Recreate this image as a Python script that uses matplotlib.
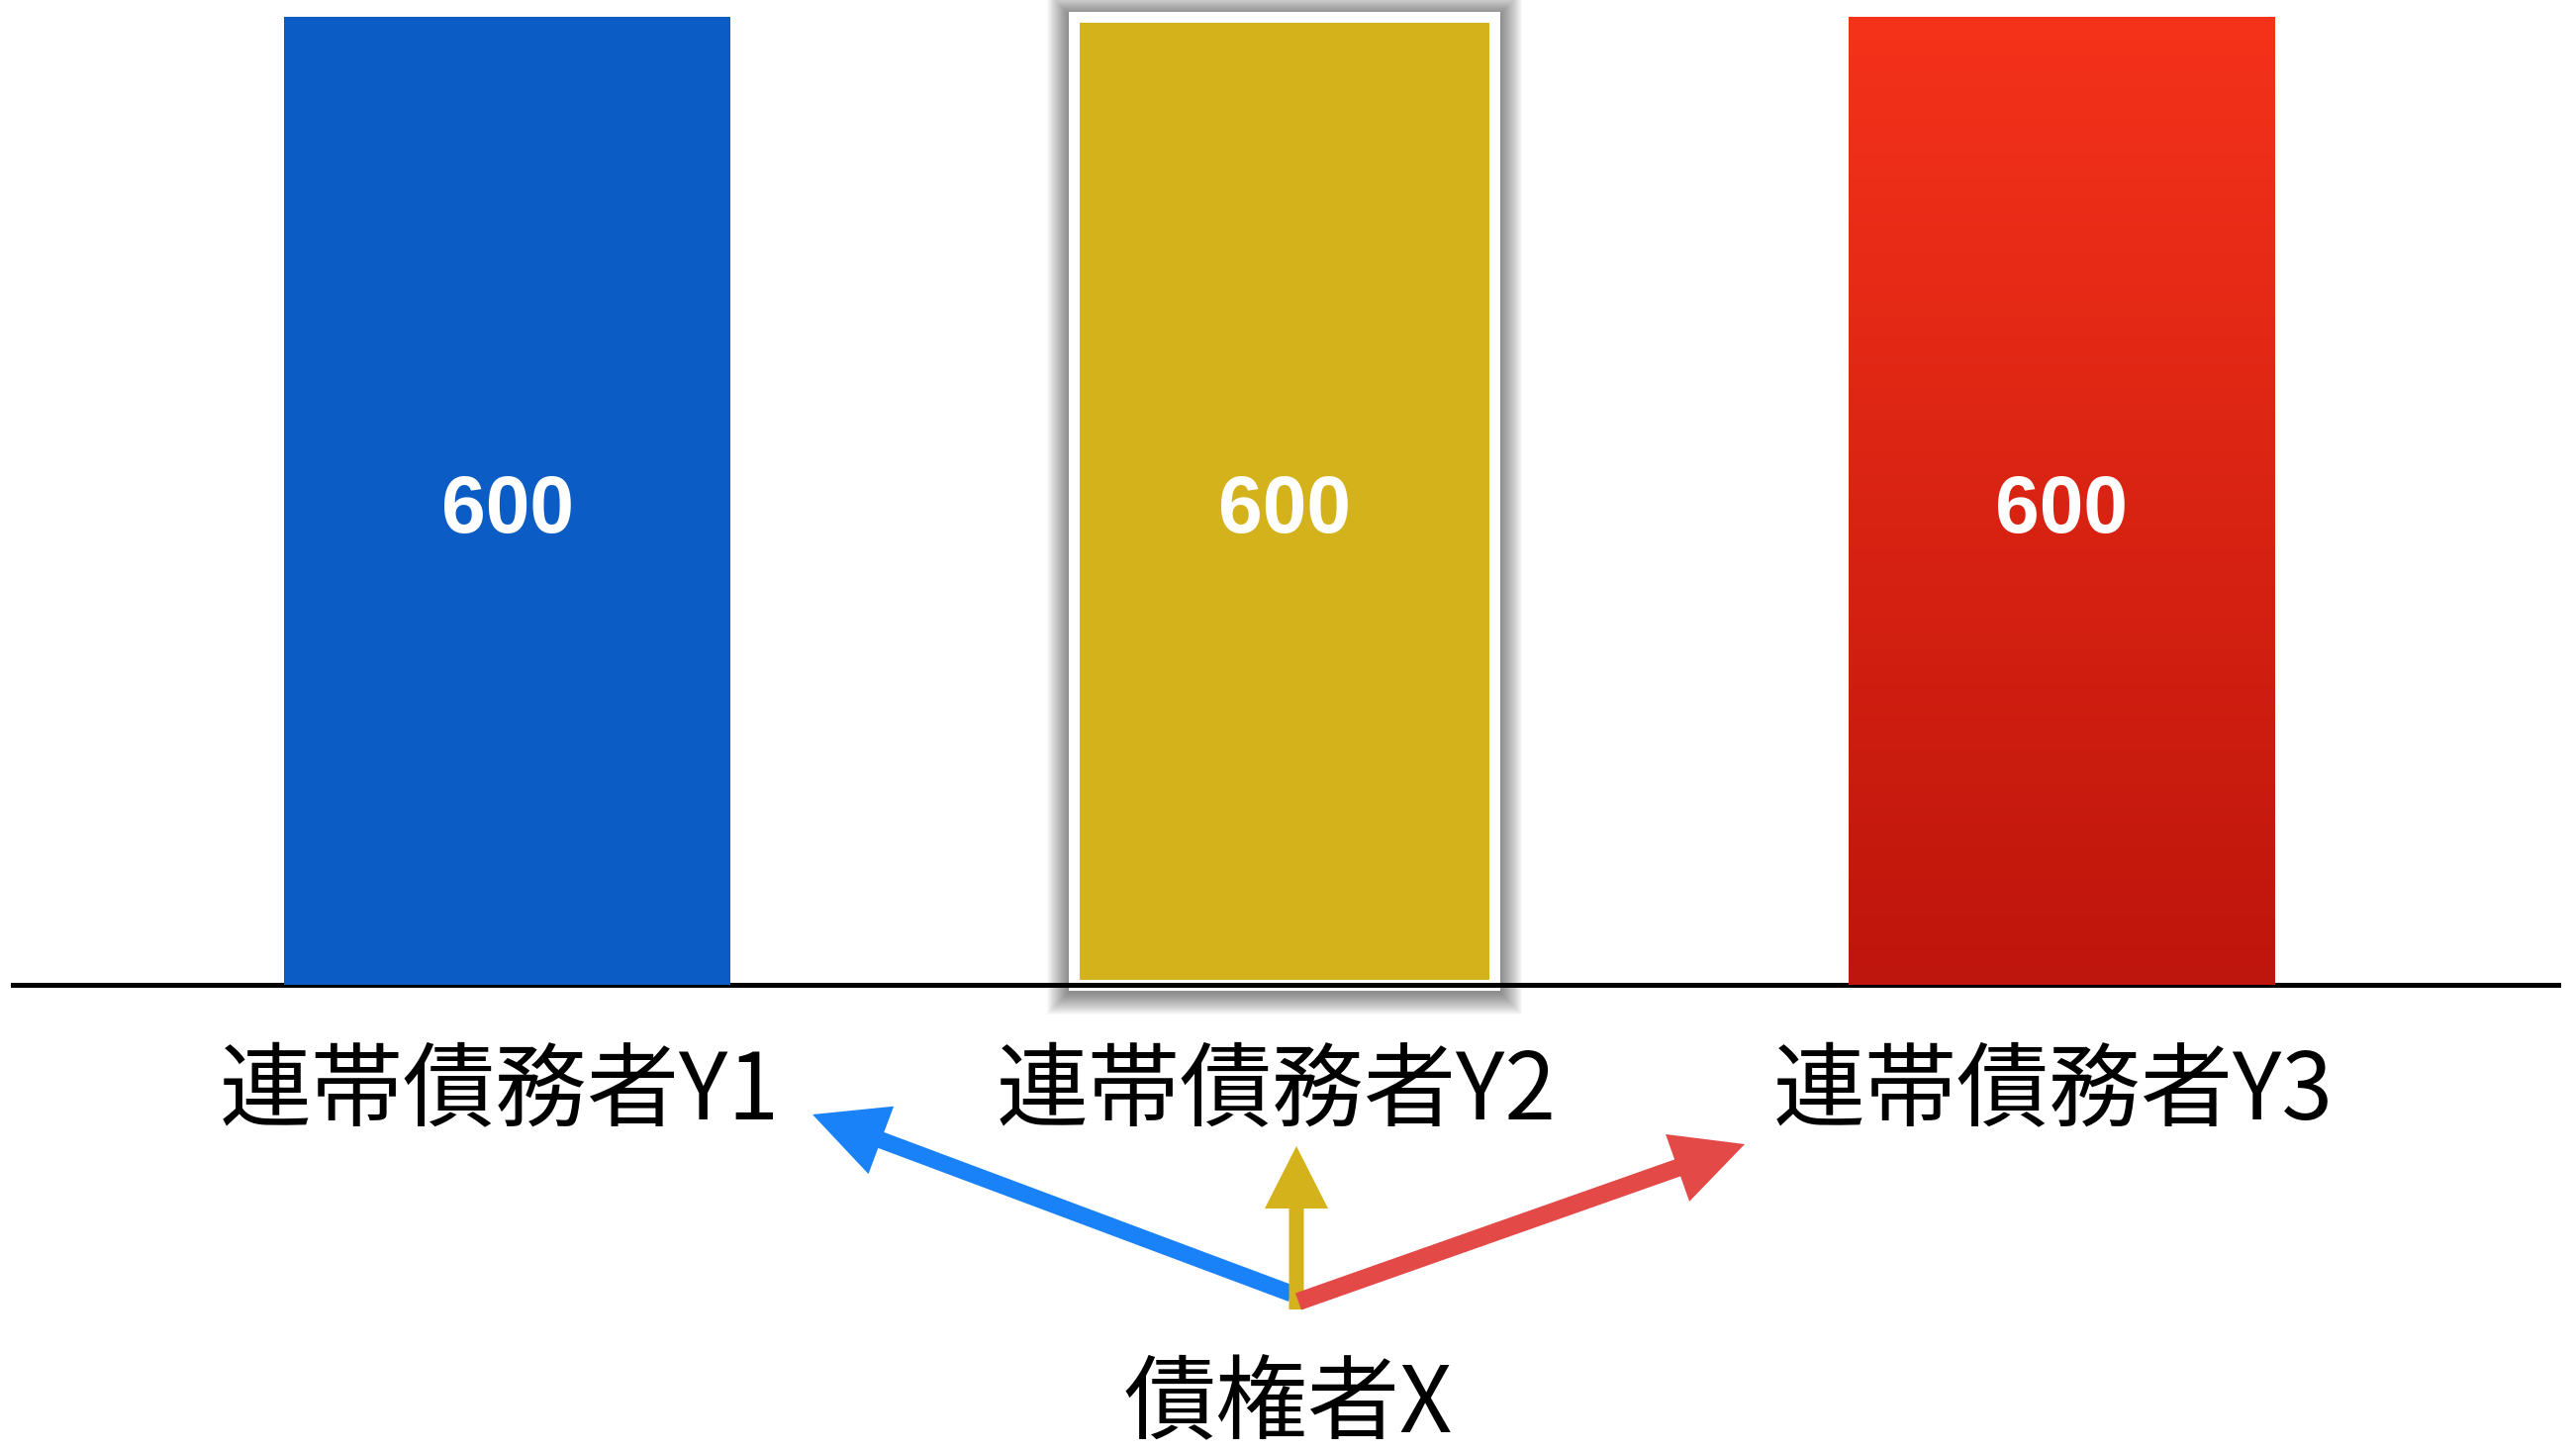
import numpy as np
import matplotlib
matplotlib.use("Agg")
import matplotlib.pyplot as plt
import matplotlib.patheffects as pe
from matplotlib.patches import FancyArrow
from matplotlib.colors import LinearSegmentedColormap

# ---- data ----
categories = ["連帯債務者Y1", "連帯債務者Y2", "連帯債務者Y3"]
values = [600, 600, 600]
value_labels = ["600", "600", "600"]
creditor = "債権者X"

plt.rcParams['font.family'] = ['Noto Sans CJK JP', 'DejaVu Sans']

W, H = 2603, 1466
DPI = 100
fig = plt.figure(figsize=(W / DPI, H / DPI), dpi=DPI)
fig.patch.set_facecolor('white')

PT = 72 / DPI  # points per pixel

# main bar axes: baseline at y=995px, value 600 -> y=17px
left_px, right_px = 13, 2585
base_px, top_px = 995, 17
ax = fig.add_axes([left_px / W, (H - base_px) / H,
                   (right_px - left_px) / W, (base_px - top_px) / H])
ax.set_facecolor('none')

x = np.arange(len(categories))
blue = '#0B5CC4'
yellow = '#D4B21C'

# blue bar
b0 = ax.bar(x[0], values[0], width=0.5745, color=blue, linewidth=0, zorder=3)

# yellow bar with white frame and soft shadow
ring = 11
shadow = [pe.Stroke(linewidth=(ring + 2 * k) * PT, foreground='black', alpha=0.022,
                    offset=(0, -1.5)) for k in range(22, 0, -1)]
b1 = ax.bar(x[1], values[1], width=0.5414, color=yellow, edgecolor='white',
            linewidth=ring * PT, zorder=1, clip_on=False)
b1[0].set_joinstyle('miter')
b1[0].set_path_effects(shadow + [pe.Normal()])

# red bar with vertical gradient
b2 = ax.bar(x[2], values[2], width=0.5478, color='none', linewidth=0, zorder=3)
rect = b2[0]
cmap = LinearSegmentedColormap.from_list('redgrad', ['#BE150C', '#F5321A'])
grad = np.linspace(0, 1, 256).reshape(-1, 1)
im = ax.imshow(grad, cmap=cmap, origin='lower', aspect='auto',
               extent=(rect.get_x(), rect.get_x() + rect.get_width(), 0, rect.get_height()),
               zorder=3, interpolation='bicubic')
im.set_clip_path(rect)

ax.set_xlim(-0.6369, 2.6395)
ax.set_ylim(0, 600)
for s in ['top', 'left', 'right']:
    ax.spines[s].set_visible(False)
ax.spines['bottom'].set_linewidth(5 * PT)
ax.spines['bottom'].set_color('black')
ax.spines['bottom'].set_zorder(2)
ax.set_xticks([])
ax.set_yticks([])

# value labels
for xi, v, lab in zip(x, values, value_labels):
    ax.annotate(lab, xy=(xi, v / 2), xytext=(0, -(540 - 508) * PT), textcoords='offset points',
                ha='center', va='baseline', color='white', fontsize=58,
                fontweight='bold', family=['Liberation Sans', 'DejaVu Sans'], zorder=5)

# category labels
for xi, lab in zip(x, categories):
    ax.annotate(lab, xy=(xi, 0), xytext=(-6, -(1130 - base_px) * PT), textcoords='offset points',
                ha='center', va='baseline', color='black', fontsize=67,
                annotation_clip=False)

# overlay axes in pixel units for arrows and creditor label
ax2 = fig.add_axes([0, 0, 1, 1])
ax2.set_xlim(0, W)
ax2.set_ylim(H, 0)
ax2.axis('off')

arrows = [
    # (start, tip, width, head_width, head_length, color)
    ((1305, 1307), (821, 1126), 17, 73, 74, '#1982F8'),
    ((1310, 1323), (1310, 1158), 15, 64, 63, yellow),
    ((1312, 1315), (1763, 1156), 18, 72, 72, '#E24947'),
]
for (sx, sy), (tx, ty), w, hw, hl, c in arrows:
    ax2.add_patch(FancyArrow(sx, sy, tx - sx, ty - sy, width=w, head_width=hw,
                             head_length=hl, length_includes_head=True,
                             color=c, linewidth=0))

ax2.text(1302, 1447, creditor, ha='center', va='baseline', fontsize=67, color='black')

fig.savefig('out.png', dpi=DPI, facecolor='white')
